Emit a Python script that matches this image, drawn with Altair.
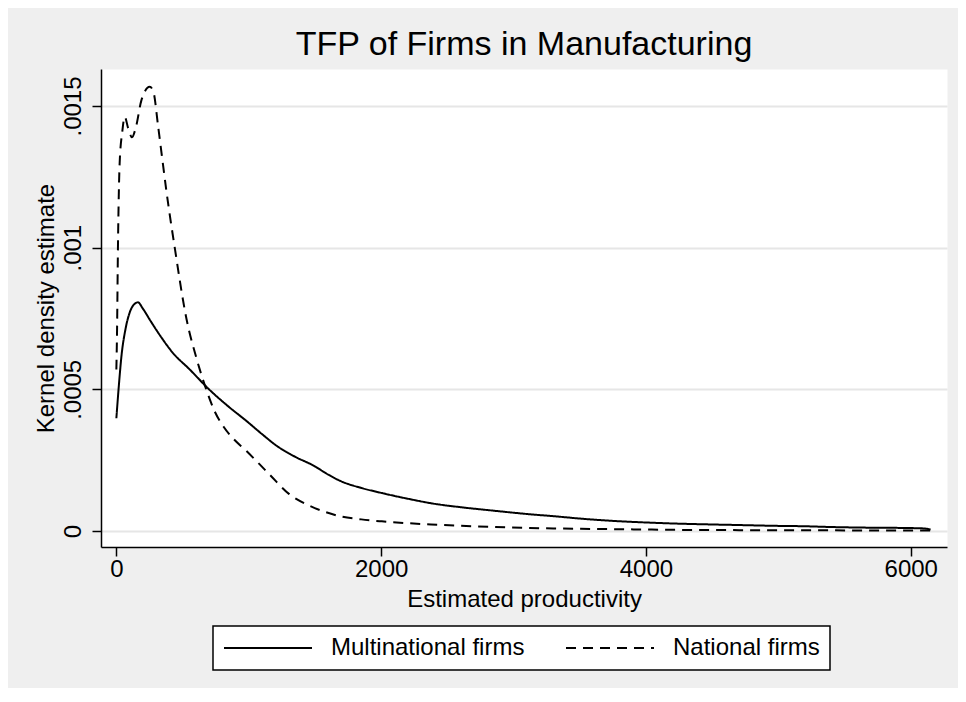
import altair as alt
import pandas as pd

# ---- data ----
series_names = ["Multinational firms", "National firms"]

multi_x = [0, 20, 38, 70, 100, 130, 163, 200, 260, 330, 428, 550, 700, 850, 981,
           1100, 1213, 1350, 1493, 1600, 1700, 1850, 2005, 2200, 2377, 2600, 2843,
           3100, 3308, 3550, 3774, 4000, 4240, 4500, 4705, 5000, 5171, 5400, 5637,
           5900, 6100, 6150]
multi_y = [0.000398, 0.000520, 0.000615, 0.000715, 0.000770, 0.000798, 0.000807,
           0.000785, 0.000740, 0.000690, 0.000628, 0.000572, 0.000500, 0.000438,
           0.000389, 0.000342, 0.000300, 0.000262, 0.000230, 0.000199, 0.000175,
           0.000152, 0.000134, 0.000114, 0.000098, 0.000084, 0.000072, 0.000060,
           0.000052, 0.000042, 0.000035, 0.000030, 0.000026, 0.000023, 0.000021,
           0.000018, 0.000017, 0.000014, 0.000012, 0.000011, 0.000009, 0.000005]

nat_x = [0, 5, 12, 25, 45, 63, 90, 118, 150, 189, 252, 280, 315, 345, 378, 441,
         529, 605, 680, 740, 810, 881, 981, 1083, 1166, 1306, 1446, 1560, 1679, 1850,
         2005, 2377, 2843, 3300, 3774, 4240, 4705, 5200, 5700, 6150]
nat_y = [0.000570, 0.000700, 0.001000, 0.001300, 0.001410, 0.001462, 0.001420,
         0.001390, 0.001430, 0.001520, 0.001568, 0.001550, 0.001430, 0.001320,
         0.001200, 0.001000, 0.000750, 0.000610, 0.000498, 0.000425, 0.000368,
         0.000327, 0.000283, 0.000235, 0.000195, 0.000130, 0.000092, 0.000070,
         0.000053, 0.000041, 0.000034, 0.000023, 0.0000145, 0.000009, 0.0000064,
         0.000004, 0.000003, 0.0000025, 0.000002, 0.000002]

title_text = "TFP of Firms in Manufacturing"
x_title = "Estimated productivity"
y_title = "Kernel density estimate"
x_ticks = [0, 2000, 4000, 6000]
y_ticks = [0, 0.0005, 0.001, 0.0015]

df = pd.concat([
    pd.DataFrame({"x": multi_x, "density": multi_y, "series": series_names[0]}),
    pd.DataFrame({"x": nat_x, "density": nat_y, "series": series_names[1]}),
], ignore_index=True)

FONT = "Liberation Sans"

chart = alt.Chart(df).mark_line(
    color="black", strokeWidth=2, interpolate="monotone"
).encode(
    x=alt.X(
        "x:Q",
        scale=alt.Scale(domain=[-116, 6274], nice=False, zero=False),
        axis=alt.Axis(values=x_ticks, format="d", title=x_title, grid=False,
                      labelPadding=1, titlePadding=6),
    ),
    y=alt.Y(
        "density:Q",
        scale=alt.Scale(domain=[-0.0000565, 0.0016306], nice=False, zero=False),
        axis=alt.Axis(
            values=y_ticks,
            labelExpr="datum.value == 0 ? '0' : replace(format(datum.value, '.4~f'), '0.', '.')",
            title=y_title, grid=True, labelAngle=270, labelAlign="center",
            labelBaseline="alphabetic", labelPadding=12,
            titlePadding=8, titleBaseline="alphabetic",
        ),
    ),
    strokeDash=alt.StrokeDash(
        "series:N",
        scale=alt.Scale(domain=series_names, range=[[1, 0], [10, 7]]),
        legend=alt.Legend(
            title=None, orient="none", legendX=112, legendY=557,
            direction="horizontal", symbolType="M-1,0H7", symbolSize=484,
            symbolStrokeWidth=2, symbolStrokeColor="black",
            labelFont=FONT, labelFontSize=24, labelColor="black",
            labelOffset=84, columnPadding=37, labelLimit=400,
        ),
    ),
).properties(
    width=846,
    height=478,
    title=alt.Title(title_text, font=FONT, fontSize=34, fontWeight="normal",
                    color="black", anchor="middle", baseline="alphabetic", offset=-20),
    autosize=alt.AutoSizeParams(type="none"),
    padding={"left": 93, "top": 61, "right": 11, "bottom": 141},
    background="#efefef",
).configure_view(
    fill="white", stroke="transparent"
).configure_axis(
    labelFont=FONT, labelFontSize=24, labelColor="black",
    titleFont=FONT, titleFontSize=24, titleColor="black", titleFontWeight="normal",
    domainColor="black", domainWidth=1.5, tickColor="black", tickWidth=1.5, tickSize=9,
    gridColor="#e6e6e6", gridWidth=2,
).configure_legend(
    strokeColor="black", strokeWidth=1.5, fillColor="white", padding=10,
)

chart.save("out.html", embed_options={"renderer": "svg", "actions": False})
